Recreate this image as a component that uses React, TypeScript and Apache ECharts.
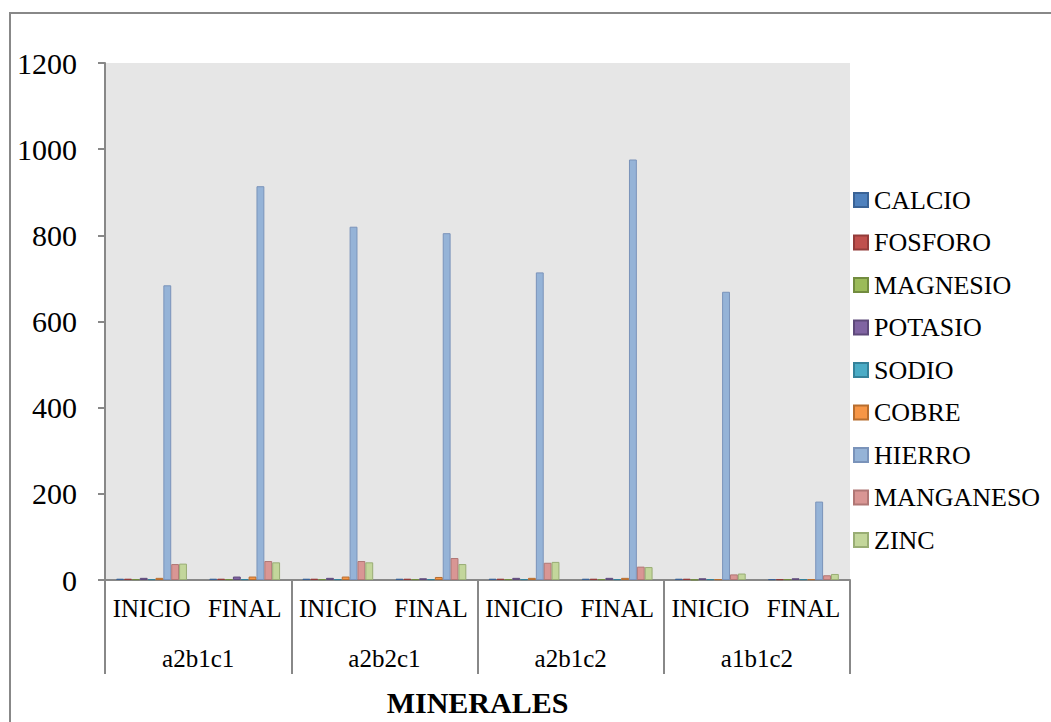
import React, { useEffect, useRef } from "react";
import * as echarts from "echarts";

// Sampling points (inner axis) and treatment groups (outer axis)
const periods = ["INICIO", "FINAL", "INICIO", "FINAL", "INICIO", "FINAL", "INICIO", "FINAL"];
const groups = ["a2b1c1", "a2b2c1", "a2b1c2", "a1b1c2"];
const yTicks = [0, 200, 400, 600, 800, 1000, 1200];

const calcio = [3, 3, 3, 3, 3, 3, 3, 2];
const fosforo = [3, 3, 3, 3, 3, 3, 3, 2];
const magnesio = [2, 2, 2, 2, 2, 2, 1, 2];
const potasio = [5, 8, 5, 4, 5, 5, 4, 4];
const sodio = [2, 2, 2, 2, 2, 2, 2, 2];
const cobre = [5, 8, 8, 7, 5, 5, 2, 2];
const hierro = [684, 914, 820, 805, 714, 976, 669, 182];
const manganeso = [37, 44, 44, 51, 40, 31, 13, 11];
const zinc = [38, 41, 41, 37, 42, 30, 15, 14];

const seriesDefs = [
  { name: "CALCIO", data: calcio, color: "#4F81BD", border: "#3A6396" },
  { name: "FOSFORO", data: fosforo, color: "#C0504D", border: "#943C3A" },
  { name: "MAGNESIO", data: magnesio, color: "#9BBB59", border: "#728C3F" },
  { name: "POTASIO", data: potasio, color: "#8064A2", border: "#5E4A7A" },
  { name: "SODIO", data: sodio, color: "#4BACC6", border: "#35829A" },
  { name: "COBRE", data: cobre, color: "#F79646", border: "#B86E2F" },
  { name: "HIERRO", data: hierro, color: "#95B3D7", border: "#7A93BA" },
  { name: "MANGANESO", data: manganeso, color: "#D99694", border: "#B07775" },
  { name: "ZINC", data: zinc, color: "#C3D69B", border: "#99AD74" },
];

const SERIF = "Times";

export default function App() {
  const ref = useRef<HTMLDivElement>(null);

  useEffect(() => {
    if (!ref.current) return;
    const chart = echarts.init(ref.current, null, { renderer: "svg" });
    chart.setOption({
      animation: false,
      backgroundColor: "#ffffff",
      textStyle: { fontFamily: SERIF, color: "#000" },
      grid: {
        left: 105,
        right: 201,
        top: 63,
        bottom: 138,
        show: true,
        backgroundColor: "#E6E6E6",
        borderWidth: 0,
      },
      legend: {
        orient: "vertical",
        left: 853,
        top: 185,
        padding: 0,
        itemWidth: 14,
        itemHeight: 14,
        itemGap: 12.5,
        icon: "rect",
        textStyle: { fontFamily: SERIF, fontSize: 26, color: "#000", lineHeight: 30, padding: [0, 0, 0, 1] },
        data: seriesDefs.map((s) => s.name),
      },
      xAxis: [
        {
          type: "category",
          data: periods,
          position: "bottom",
          axisLine: { show: true, lineStyle: { color: "#888", width: 2 } },
          axisTick: { show: false },
          axisLabel: { fontFamily: SERIF, fontSize: 25, color: "#000", margin: 16, interval: 0 },
        },
        {
          type: "category",
          data: groups,
          position: "bottom",
          axisLine: { show: false },
          axisTick: { show: true, length: 94, lineStyle: { color: "#888", width: 2 } },
          axisLabel: { fontFamily: SERIF, fontSize: 25, color: "#000", margin: 66, interval: 0 },
          name: "MINERALES",
          nameLocation: "middle",
          nameGap: 107,
          nameTextStyle: { fontFamily: SERIF, fontSize: 30, fontWeight: "bold", color: "#000" },
        },
      ],
      yAxis: {
        type: "value",
        min: yTicks[0],
        max: yTicks[yTicks.length - 1],
        interval: yTicks[1] - yTicks[0],
        axisLine: { show: true, lineStyle: { color: "#888", width: 2 } },
        axisTick: { show: true, length: 7, lineStyle: { color: "#888", width: 2 } },
        splitLine: { show: false },
        axisLabel: {
          fontFamily: SERIF,
          fontSize: 30,
          color: "#000",
          margin: 28,
          formatter: (v: number) => String(v),
        },
      },
      graphic: [
        {
          type: "polyline",
          shape: { points: [[1051, 13], [10, 13], [10, 722]] },
          style: { stroke: "#888", lineWidth: 2, fill: "none" },
          silent: true,
        },
      ],
      series: seriesDefs.map((s) => ({
        name: s.name,
        type: "bar",
        xAxisIndex: 0,
        data: s.data,
        barGap: "0%",
        barCategoryGap: "24%",
        itemStyle: { color: s.color, borderColor: s.border, borderWidth: 1 },
      })),
    });
    return () => chart.dispose();
  }, []);

  return (
    <div
      ref={ref}
      style={{ position: "fixed", left: 0, top: 0, width: 1051, height: 722 }}
    />
  );
}
